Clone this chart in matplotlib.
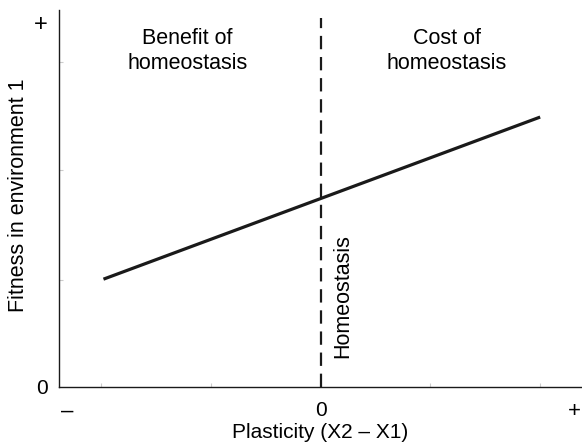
import matplotlib.pyplot as plt

plt.rcParams['font.family'] = ['Liberation Sans', 'DejaVu Sans']

# data (arbitrary units, axes run -1..1 and 0..1)
line_x = [-0.83, 0.84]
line_y = [0.286, 0.716]
homeo_x = 0.0
x_tick_pos = [-0.97, 0.0, 0.97]
x_tick_labels = ['\u2013', '0', '+']
y_tick_pos = [0.0, 0.968]
y_tick_labels = ['0', '+']
x_minor = [-0.84, -0.42, 0.42, 0.84]
y_minor = [0.284, 0.576, 0.862]

fig = plt.figure(figsize=(5.82, 4.44), dpi=100)
ax = fig.add_axes([0.1014, 0.1284, 0.8986, 0.8491])

ax.plot(line_x, line_y, color='#1a1a1a', lw=2.3, solid_capstyle='butt')
ax.axvline(homeo_x, ymax=0.98, color='#1a1a1a', lw=1.6, ls=(0, (6, 3.5)))

ax.set_xlim(-1, 1)
ax.set_ylim(0, 1)
ax.spines['top'].set_visible(False)
ax.spines['right'].set_visible(False)
for s in ['left', 'bottom']:
    ax.spines[s].set_linewidth(1.0)
    ax.spines[s].set_color('#1a1a1a')

ax.set_xticks(x_tick_pos)
ax.set_xticklabels(x_tick_labels, fontsize=16)
ax.set_yticks(y_tick_pos)
ax.set_yticklabels(y_tick_labels, fontsize=15)
ax.get_xticklabels()[1].set_fontsize(15)
ax.get_yticklabels()[1].set_fontsize(17)
ax.tick_params(axis='both', which='major', length=0)
ax.tick_params(axis='x', which='major', pad=10)
ax.tick_params(axis='y', which='major', pad=8)
ax.set_xticks(x_minor, minor=True)
ax.set_yticks(y_minor, minor=True)
ax.tick_params(which='minor', direction='in', length=3, color='#cccccc', width=0.8)

ax.set_xlabel('Plasticity (X2 \u2013 X1)', fontsize=15, labelpad=1)
ax.set_ylabel('Fitness in environment 1', fontsize=15.5, va='center')
ax.yaxis.set_label_coords(-0.078, 0.509)

ax.text(-0.51, 0.952, 'Benefit of\nhomeostasis', fontsize=15.5, ha='center', va='top',
        linespacing=1.25)
ax.text(0.483, 0.952, 'Cost of\nhomeostasis', fontsize=15.5, ha='center', va='top',
        linespacing=1.25)
ax.text(0.084, 0.241, 'Homeostasis', fontsize=15.5, ha='center', va='center', rotation=90)

fig.savefig('out.png', dpi=100)
